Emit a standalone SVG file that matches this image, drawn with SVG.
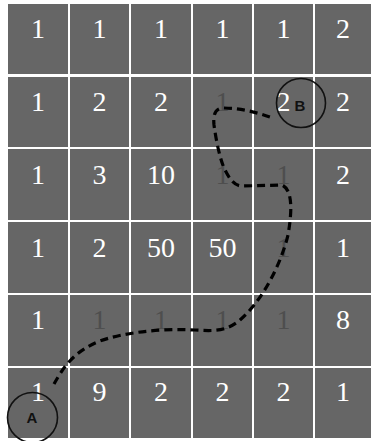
<svg xmlns="http://www.w3.org/2000/svg" width="371" height="441" viewBox="0 0 371 441">
<style>
.cell{fill:#666666}
.n{font-family:"Liberation Serif","DejaVu Serif",serif;font-size:28px;fill:#ffffff;text-anchor:middle}
.d{fill:#4e4e4e}
.lbl{font-family:"Liberation Sans","DejaVu Sans",sans-serif;font-size:15px;font-weight:bold;fill:#111111;text-anchor:middle}
.ring{fill:none;stroke:#111111;stroke-width:1.6}
</style>
<rect width="371" height="441" fill="#ffffff"/>
<g id="grid">
<rect class="cell" x="8" y="4" width="60" height="70"/><rect class="cell" x="70" y="4" width="59" height="70"/><rect class="cell" x="131" y="4" width="60" height="70"/><rect class="cell" x="193" y="4" width="59" height="70"/><rect class="cell" x="254" y="4" width="59" height="70"/><rect class="cell" x="315" y="4" width="56" height="70"/>
<rect class="cell" x="8" y="77" width="60" height="70"/><rect class="cell" x="70" y="77" width="59" height="70"/><rect class="cell" x="131" y="77" width="60" height="70"/><rect class="cell" x="193" y="77" width="59" height="70"/><rect class="cell" x="254" y="77" width="59" height="70"/><rect class="cell" x="315" y="77" width="56" height="70"/>
<rect class="cell" x="8" y="149" width="60" height="71"/><rect class="cell" x="70" y="149" width="59" height="71"/><rect class="cell" x="131" y="149" width="60" height="71"/><rect class="cell" x="193" y="149" width="59" height="71"/><rect class="cell" x="254" y="149" width="59" height="71"/><rect class="cell" x="315" y="149" width="56" height="71"/>
<rect class="cell" x="8" y="222" width="60" height="71"/><rect class="cell" x="70" y="222" width="59" height="71"/><rect class="cell" x="131" y="222" width="60" height="71"/><rect class="cell" x="193" y="222" width="59" height="71"/><rect class="cell" x="254" y="222" width="59" height="71"/><rect class="cell" x="315" y="222" width="56" height="71"/>
<rect class="cell" x="8" y="295" width="60" height="71"/><rect class="cell" x="70" y="295" width="59" height="71"/><rect class="cell" x="131" y="295" width="60" height="71"/><rect class="cell" x="193" y="295" width="59" height="71"/><rect class="cell" x="254" y="295" width="59" height="71"/><rect class="cell" x="315" y="295" width="56" height="71"/>
<rect class="cell" x="8" y="368" width="60" height="70"/><rect class="cell" x="70" y="368" width="59" height="70"/><rect class="cell" x="131" y="368" width="60" height="70"/><rect class="cell" x="193" y="368" width="59" height="70"/><rect class="cell" x="254" y="368" width="59" height="70"/><rect class="cell" x="315" y="368" width="56" height="70"/>
</g>
<g id="numbers">
<text class="n" x="38" y="38">1</text><text class="n" x="99.5" y="38">1</text><text class="n" x="161" y="38">1</text><text class="n" x="222.5" y="38">1</text><text class="n" x="283.5" y="38">1</text><text class="n" x="343" y="38">2</text>
<text class="n" x="38" y="111">1</text><text class="n" x="99.5" y="111">2</text><text class="n" x="161" y="111">2</text><text class="n d" x="222.5" y="111">1</text><text class="n" x="283.5" y="111">2</text><text class="n" x="343" y="111">2</text>
<text class="n" x="38" y="184">1</text><text class="n" x="99.5" y="184">3</text><text class="n" x="161" y="184">10</text><text class="n d" x="222.5" y="184">1</text><text class="n d" x="283.5" y="184">1</text><text class="n" x="343" y="184">2</text>
<text class="n" x="38" y="257">1</text><text class="n" x="99.5" y="257">2</text><text class="n" x="161" y="257">50</text><text class="n" x="222.5" y="257">50</text><text class="n d" x="283.5" y="257">1</text><text class="n" x="343" y="257">1</text>
<text class="n" x="38" y="329">1</text><text class="n d" x="99.5" y="329">1</text><text class="n d" x="161" y="329">1</text><text class="n d" x="222.5" y="329">1</text><text class="n d" x="283.5" y="329">1</text><text class="n" x="343" y="329">8</text>
<text class="n" x="38" y="401">1</text><text class="n" x="99.5" y="401">9</text><text class="n" x="161" y="401">2</text><text class="n" x="222.5" y="401">2</text><text class="n" x="283.5" y="401">2</text><text class="n" x="343" y="401">1</text>
</g>
<g id="connectors">
<path d="M 54 384 C 62 370, 72 352, 100 341 C 122 333, 160 328, 195 330 C 212 331, 226 332, 240 320 C 260 303, 280 268, 288 235 C 292 212, 293 190, 282 185 L 242 186 C 235 186, 230 180, 225 170 C 220 160, 216 140, 214 125 C 213 115, 215 109, 222 108 C 240 108, 255 112, 270 117" fill="none" stroke="#000000" stroke-width="3.2" stroke-dasharray="8,5"/>
</g>
<g id="node-B">
<circle class="ring" cx="301" cy="103" r="24.5"/>
<text class="lbl" x="300" y="111">B</text>
</g>
<g id="node-A">
<circle class="ring" cx="32.5" cy="417.5" r="25"/>
<text class="lbl" x="32" y="423">A</text>
</g>
</svg>
